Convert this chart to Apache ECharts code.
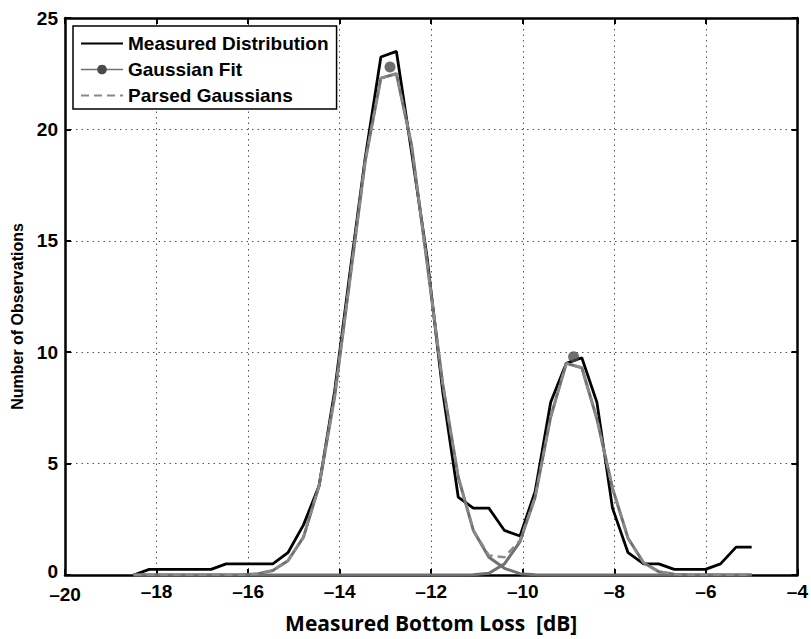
<!DOCTYPE html>
<html>
<head>
<meta charset="utf-8">
<title>Measured Bottom Loss</title>
<script src="https://cdn.jsdelivr.net/npm/echarts@6/dist/echarts.min.js"></script>
<style>
  html, body { margin: 0; padding: 0; background: #fff; }
  #chart { width: 811px; height: 639px; }
</style>
</head>
<body>
<div id="chart"></div>
<script>
// Bin centres of the bottom-loss histogram (dB)
const binCenters = [
  -18.5, -18.16, -17.83, -17.49, -17.15, -16.81, -16.48, -16.14, -15.8, -15.46,
  -15.13, -14.79, -14.45, -14.11, -13.78, -13.44, -13.1, -12.76, -12.43, -12.09,
  -11.75, -11.41, -11.08, -10.74, -10.4, -10.06, -9.73, -9.39, -9.05, -8.71,
  -8.38, -8.04, -7.7, -7.36, -7.03, -6.69, -6.35, -6.01, -5.68, -5.34, -5.0
];

// Measured distribution (number of observations per bin)
const measuredCounts = [
  0, 0.25, 0.25, 0.25, 0.25, 0.25, 0.5, 0.5, 0.5, 0.5,
  1.0, 2.25, 4.0, 8.25, 13.5, 18.75, 23.25, 23.5, 19.0, 14.25,
  8.25, 3.5, 3.0, 3.0, 2.0, 1.75, 3.75, 7.75, 9.5, 9.75,
  7.75, 3.0, 1.0, 0.5, 0.5, 0.25, 0.25, 0.25, 0.5, 1.25, 1.25
];

// Fitted Gaussian component around -12.9 dB
const gaussLow = [
  0, 0, 0, 0, 0, 0, 0, 0.01, 0.05, 0.2,
  0.64, 1.7, 4.0, 8.0, 13.2, 18.6, 22.3, 22.5, 19.3, 14.0,
  8.6, 4.4, 2.0, 0.8, 0.3, 0.06, 0.015, 0, 0, 0,
  0, 0, 0, 0, 0, 0, 0, 0, 0, 0, 0
];

// Fitted Gaussian component around -8.9 dB
const gaussHigh = [
  0, 0, 0, 0, 0, 0, 0, 0, 0, 0,
  0, 0, 0, 0, 0, 0, 0, 0, 0, 0,
  0, 0, 0.01, 0.08, 0.5, 1.5, 3.5, 7.1, 9.5, 9.3,
  7.0, 3.9, 1.65, 0.55, 0.15, 0.03, 0, 0, 0, 0, 0
];

// Combined (parsed) Gaussian curve
const parsedSum = [
  0, 0, 0, 0, 0, 0, 0, 0.01, 0.05, 0.2,
  0.64, 1.7, 4.0, 8.0, 13.2, 18.6, 22.3, 22.5, 19.3, 14.0,
  8.6, 4.4, 2.01, 0.88, 0.8, 1.56, 3.5, 7.1, 9.5, 9.3,
  7.0, 3.9, 1.65, 0.55, 0.15, 0.03, 0, 0, 0, 0, 0
];

// Peak positions of the fitted Gaussians
const peakLoss = [-12.9, -8.89];
const peakCount = [22.8, 9.8];

// Axis ranges
const xRange = { min: -20, max: -4, step: 2 };
const yRange = { min: 0, max: 25, step: 5 };

const pairs = (xs, ys) => xs.map((x, i) => [x, ys[i]]);
const dashLabel = v => (v < 0 ? '\u2013' + Math.abs(v) : String(v));
// the corner labels sit close together; nudge them apart slightly
const xTickLabel = v => (v === xRange.min ? '{corner|' + dashLabel(v) + '}' : dashLabel(v));
const yTickLabel = v => (v === yRange.min ? '{corner|' + dashLabel(v) + '}' : dashLabel(v));

const helv = "'Liberation Sans', Arial, Helvetica, sans-serif";
const labelFont = {
  fontFamily: helv,
  fontWeight: 'bold',
  fontSize: 19,
  color: '#000'
};

const boxLine = { show: true, onZero: false, lineStyle: { color: '#000', width: 2.5 } };
const innerTick = { show: true, inside: true, length: 6, lineStyle: { color: '#000', width: 2 } };
const dottedGrid = { show: true, lineStyle: { color: '#555', width: 1, type: [1.5, 4] } };

const chart = echarts.init(document.getElementById('chart'), null, { renderer: 'svg' });

chart.setOption({
  backgroundColor: '#fff',
  animation: false,
  grid: { left: 65, right: 10, top: 18, bottom: 64, containLabel: false },
  legend: {
    orient: 'vertical',
    left: 73,
    top: 26,
    padding: [8, 8, 4, 7],
    itemGap: 7,
    itemWidth: 42,
    itemHeight: 12,
    selectedMode: false,
    backgroundColor: '#fff',
    borderColor: '#000',
    borderWidth: 1.5,
    borderRadius: 0,
    textStyle: Object.assign({}, labelFont, { lineHeight: 19 }),
    data: [
      { name: 'Measured Distribution', itemStyle: { opacity: 0 } },
      { name: 'Gaussian Fit', lineStyle: { width: 1.5 } },
      { name: 'Parsed Gaussians', itemStyle: { opacity: 0 } }
    ]
  },
  xAxis: [
    {
      type: 'value',
      position: 'bottom',
      min: xRange.min, max: xRange.max, interval: xRange.step,
      axisLine: boxLine,
      axisTick: innerTick,
      axisLabel: Object.assign({
        margin: 10, lineHeight: 13, formatter: xTickLabel,
        rich: { corner: Object.assign({}, labelFont, { lineHeight: 13, padding: [6, 0, 0, 0] }) }
      }, labelFont),
      splitLine: dottedGrid,
      name: 'Measured Bottom Loss  [dB]',
      nameLocation: 'middle',
      nameGap: 37,
      nameTextStyle: {
        fontFamily: "'Open Sans', sans-serif",
        fontWeight: 'bold',
        fontSize: 21,
        color: '#000'
      }
    },
    {
      type: 'value',
      position: 'top',
      min: xRange.min, max: xRange.max, interval: xRange.step,
      axisLine: boxLine,
      axisTick: innerTick,
      axisLabel: { show: false },
      splitLine: { show: false }
    }
  ],
  yAxis: [
    {
      type: 'value',
      position: 'left',
      min: yRange.min, max: yRange.max, interval: yRange.step,
      axisLine: boxLine,
      axisTick: innerTick,
      axisLabel: Object.assign({
        margin: 7, lineHeight: 13, formatter: yTickLabel,
        rich: { corner: Object.assign({}, labelFont, { lineHeight: 13, padding: [0, 0, 8, 0] }) }
      }, labelFont),
      splitLine: dottedGrid,
      name: 'Number of Observations',
      nameLocation: 'middle',
      nameGap: 38,
      nameTextStyle: {
        fontFamily: helv,
        fontWeight: 'bold',
        fontSize: 16,
        color: '#000',
        padding: [0, 40, 0, 0]
      }
    },
    {
      type: 'value',
      position: 'right',
      min: yRange.min, max: yRange.max, interval: yRange.step,
      axisLine: boxLine,
      axisTick: innerTick,
      axisLabel: { show: false },
      splitLine: { show: false }
    }
  ],
  series: [
    {
      name: 'Measured Distribution',
      type: 'line',
      data: pairs(binCenters, measuredCounts),
      symbol: 'none',
      lineStyle: { color: '#000', width: 2.8 },
      itemStyle: { color: '#000' },
      z: 3
    },
    {
      name: 'Gaussian Fit',
      type: 'line',
      data: pairs(binCenters, gaussLow),
      symbol: 'circle',
      symbolSize: 10,
      showSymbol: false,
      lineStyle: { color: '#707070', width: 3 },
      itemStyle: { color: '#4a4a4a' },
      z: 4
    },
    {
      name: 'Gaussian Fit',
      type: 'line',
      data: pairs(binCenters, gaussHigh),
      symbol: 'circle',
      symbolSize: 10,
      showSymbol: false,
      lineStyle: { color: '#707070', width: 3 },
      itemStyle: { color: '#4a4a4a' },
      z: 4
    },
    {
      name: 'Parsed Gaussians',
      type: 'line',
      data: pairs(binCenters, parsedSum),
      symbol: 'none',
      lineStyle: { color: '#8a8a8a', width: 2.5, type: [8, 5] },
      itemStyle: { color: '#8a8a8a' },
      z: 5
    },
    {
      name: 'Gaussian Fit',
      type: 'scatter',
      data: pairs(peakLoss, peakCount),
      symbol: 'circle',
      symbolSize: 11,
      itemStyle: { color: '#4a4a4a' },
      z: 6
    }
  ]
});
</script>
</body>
</html>
